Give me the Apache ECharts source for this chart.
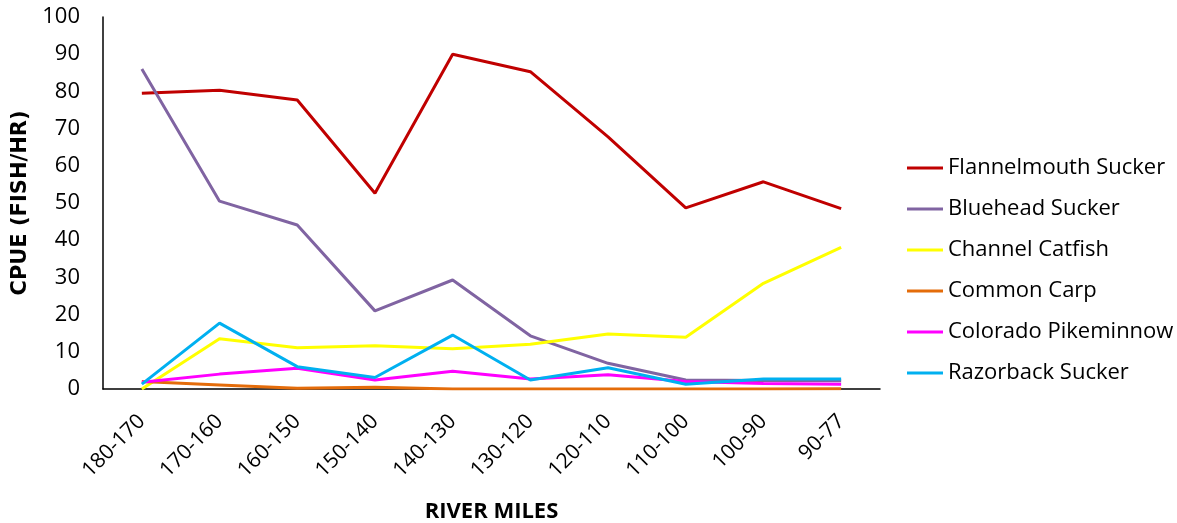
<!DOCTYPE html>
<html>
<head>
<meta charset="utf-8">
<script src="https://cdn.jsdelivr.net/npm/echarts@6/dist/echarts.min.js"></script>
<style>
  html, body { margin: 0; padding: 0; background: #fff; }
  #chart { width: 1177px; height: 523px; }
</style>
</head>
<body>
<div id="chart"></div>
<script>
// River-mile reaches, upstream to downstream
const reaches = ['180-170', '170-160', '160-150', '150-140', '140-130', '130-120', '120-110', '110-100', '100-90', '90-77'];

// Catch per unit effort (fish per hour) by species
const flannelmouthSucker = [79.5, 80.3, 77.7, 52.6, 90.0, 85.3, 67.8, 48.7, 55.7, 48.5];
const blueheadSucker     = [86.0, 50.5, 44.1, 21.0, 29.3, 14.3, 6.9, 2.4, 2.3, 2.2];
const channelCatfish     = [0.0, 13.5, 11.1, 11.6, 10.8, 12.0, 14.8, 13.9, 28.4, 38.1];
const commonCarp         = [2.0, 1.1, 0.2, 0.5, 0.0, 0.0, 0.0, 0.0, 0.0, 0.1];
const coloradoPikeminnow = [1.8, 4.0, 5.6, 2.4, 4.8, 2.7, 3.8, 2.0, 1.5, 1.3];
const razorbackSucker    = [1.3, 17.7, 6.0, 3.1, 14.5, 2.4, 5.7, 1.3, 2.7, 2.7];

const yTicks = { min: 0, max: 100, interval: 10 };

const FONT = 'Open Sans';

function line(name, data, color) {
  return {
    name: name,
    type: 'line',
    data: data,
    showSymbol: false,
    symbol: 'none',
    lineStyle: { color: color, width: 3 },
    itemStyle: { color: color },
    emphasis: { disabled: true },
    animation: false
  };
}

const chart = echarts.init(document.getElementById('chart'), null, { renderer: 'canvas' });
chart.setOption({
  backgroundColor: '#ffffff',
  animation: false,
  textStyle: { fontFamily: FONT },
  grid: { left: 103, right: 297, top: 17, bottom: 134, containLabel: false, outerBoundsMode: 'none' },
  legend: {
    orient: 'vertical',
    left: 907,
    top: 154,
    padding: 0,
    itemWidth: 36,
    itemHeight: 3,
    itemGap: 13,
    icon: 'rect',
    textStyle: { fontFamily: FONT, fontSize: 22, color: '#000', lineHeight: 28 },
    data: ['Flannelmouth Sucker', 'Bluehead Sucker', 'Channel Catfish', 'Common Carp', 'Colorado Pikeminnow', 'Razorback Sucker']
  },
  xAxis: {
    type: 'category',
    data: reaches,
    boundaryGap: true,
    name: 'RIVER MILES',
    nameLocation: 'middle',
    nameGap: 112,
    nameTextStyle: { fontFamily: FONT, fontSize: 22, fontWeight: 'bold', color: '#000' },
    axisLine: { show: true, lineStyle: { color: '#000', width: 1.5 } },
    axisTick: { show: false },
    axisLabel: { rotate: 45, fontFamily: FONT, fontSize: 21, color: '#000', margin: 29 },
    splitLine: { show: false }
  },
  yAxis: {
    type: 'value',
    min: yTicks.min,
    max: yTicks.max,
    interval: yTicks.interval,
    name: 'CPUE (FISH/HR)',
    nameLocation: 'middle',
    nameGap: 71,
    nameTextStyle: { fontFamily: 'DejaVu Sans', fontSize: 21, fontWeight: 'bold', color: '#000' },
    axisLine: { show: true, lineStyle: { color: '#000', width: 1.5 } },
    axisTick: { show: false },
    axisLabel: { fontFamily: FONT, fontSize: 22, color: '#000', margin: 23 },
    splitLine: { show: false }
  },
  series: [
    line('Flannelmouth Sucker', flannelmouthSucker, '#C00000'),
    line('Bluehead Sucker', blueheadSucker, '#8064A2'),
    line('Channel Catfish', channelCatfish, '#FFFF00'),
    line('Common Carp', commonCarp, '#E46C0A'),
    line('Colorado Pikeminnow', coloradoPikeminnow, '#FF00FF'),
    line('Razorback Sucker', razorbackSucker, '#00B0F0')
  ]
});
</script>
</body>
</html>
